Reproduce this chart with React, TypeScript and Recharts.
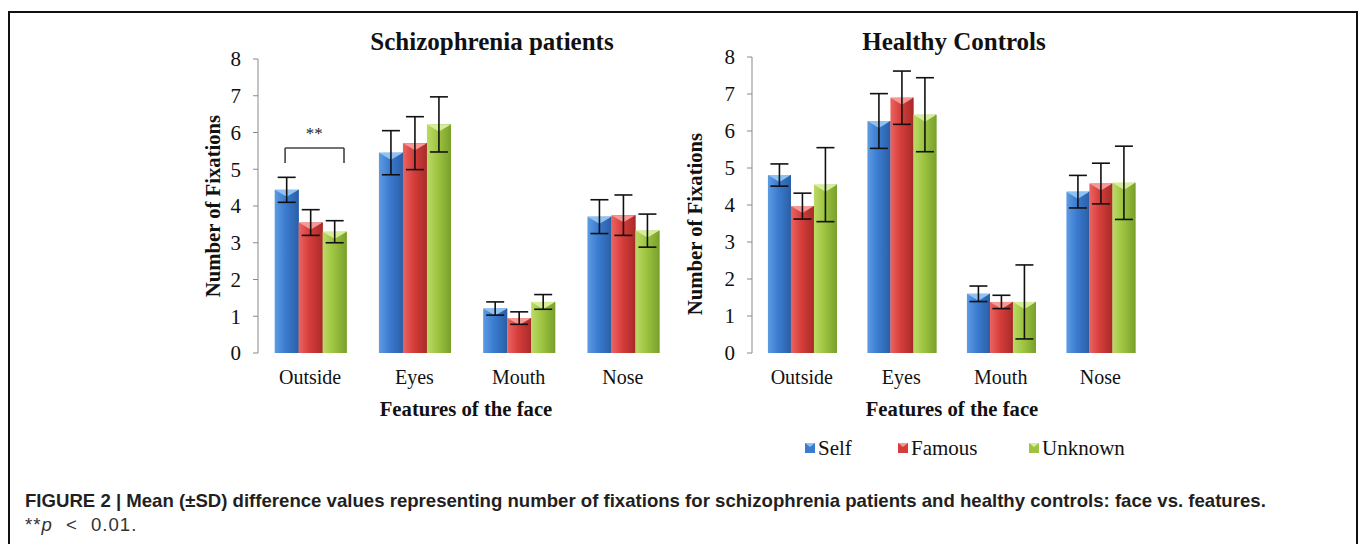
import React from 'react';
import {
    BarChart,
    Bar,
    XAxis,
    YAxis,
    ErrorBar,
    ReferenceLine,
    ReferenceDot
} from 'recharts';

// categories and series
const CATEGORIES = ['Outside', 'Eyes', 'Mouth', 'Nose'];
const SERIES = ['Self', 'Famous', 'Unknown'];
const Y_TICKS = [0, 1, 2, 3, 4, 5, 6, 7, 8];
const BOUNDARY_TICKS = [0, 1, 2, 3, 4];

// schizophrenia patients (mean, sd)
const SZ_SELF = [4.44, 5.45, 1.21, 3.71];
const SZ_FAMOUS = [3.55, 5.71, 0.95, 3.75];
const SZ_UNKNOWN = [3.3, 6.22, 1.39, 3.33];
const SZ_SELF_SD = [0.34, 0.6, 0.18, 0.46];
const SZ_FAMOUS_SD = [0.35, 0.72, 0.17, 0.55];
const SZ_UNKNOWN_SD = [0.3, 0.75, 0.2, 0.45];

// healthy controls (mean, sd)
const HC_SELF = [4.81, 6.27, 1.6, 4.36];
const HC_FAMOUS = [3.97, 6.9, 1.38, 4.58];
const HC_UNKNOWN = [4.55, 6.44, 1.38, 4.6];
const HC_SELF_SD = [0.3, 0.74, 0.21, 0.44];
const HC_FAMOUS_SD = [0.35, 0.72, 0.18, 0.55];
const HC_UNKNOWN_SD = [1.0, 1.0, 1.0, 0.99];

const SERIF = "'Liberation Serif', 'Times New Roman', serif";
const SANS = "'Liberation Sans', Arial, Helvetica, sans-serif";

const PALETTE: Record<string, { light: string; mid: string; dark: string; top: string }> = {
    Self: { light: '#5d9be2', mid: '#3b7bd0', dark: '#2a5fa6', top: '#8fc2f2' },
    Famous: { light: '#ea6462', mid: '#d63d3a', dark: '#a82b29', top: '#f59896' },
    Unknown: { light: '#bcda66', mid: '#9dc440', dark: '#79a02c', top: '#d6ee9a' }
};

// legend item left edges
const LEGEND_X = [805, 898, 1029];

const buildRows = (self: number[], famous: number[], unknown: number[], selfSd: number[], famousSd: number[], unknownSd: number[]) =>
    CATEGORIES.map((name, i) => ({
        name,
        pos: i + 0.5, // category centre on the 0..4 boundary axis
        Self: self[i],
        Famous: famous[i],
        Unknown: unknown[i],
        SelfSd: selfSd[i],
        FamousSd: famousSd[i],
        UnknownSd: unknownSd[i]
    }));

const szData = buildRows(SZ_SELF, SZ_FAMOUS, SZ_UNKNOWN, SZ_SELF_SD, SZ_FAMOUS_SD, SZ_UNKNOWN_SD);
const hcData = buildRows(HC_SELF, HC_FAMOUS, HC_UNKNOWN, HC_SELF_SD, HC_FAMOUS_SD, HC_UNKNOWN_SD);

// bar with a bevelled top, roughly like the office 3D style
const makeBevelBar = (key: string) => (props: any) => {
    const { x, y, width, height } = props;
    if (!height || height <= 0) return null;
    const c = PALETTE[key];
    const bevel = Math.min(7, height);
    return (
        <g>
            <rect x={x} y={y} width={width} height={height} fill={`url(#grad-${key})`} />
            <polygon
                points={`${x},${y} ${x + width},${y} ${x + width / 2},${y + bevel}`}
                fill={c.top}
            />
            <line x1={x + width - 0.5} y1={y} x2={x + width - 0.5} y2={y + height} stroke={c.dark} strokeWidth={1} />
        </g>
    );
};

const Gradients = () => (
    <defs>
        {SERIES.map(s => (
            <linearGradient key={s} id={`grad-${s}`} x1="0" y1="0" x2="1" y2="0">
                <stop offset="0%" stopColor={PALETTE[s].light} />
                <stop offset="45%" stopColor={PALETTE[s].mid} />
                <stop offset="100%" stopColor={PALETTE[s].dark} />
            </linearGradient>
        ))}
    </defs>
);

const axisGray = '#8a8a8a';

interface PanelProps {
    data: any[];
    width: number;
    height: number;
    yWidth: number;
    margin: { top: number; right: number; left: number; bottom: number };
    children?: React.ReactNode;
}

const Panel: React.FC<PanelProps> = ({ data, width, height, yWidth, margin, children }) => (
    <BarChart
        width={width}
        height={height}
        data={data}
        margin={margin}
        barGap={0}
        barCategoryGap="16%"
    >
        <Gradients />
        <XAxis
            xAxisId="edge"
            dataKey="pos"
            type="number"
            domain={[0, 4]}
            ticks={BOUNDARY_TICKS}
            allowDataOverflow
            height={0}
            tickSize={5}
            tickFormatter={() => ''}
            stroke={axisGray}
            tickLine={{ stroke: axisGray }}
        />
        <XAxis
            xAxisId="cat"
            dataKey="name"
            height={30}
            axisLine={false}
            tickLine={false}
            tickMargin={11}
            tick={{ fill: '#111', fontSize: 20, fontFamily: SERIF }}
        />
        <YAxis
            domain={[0, 8]}
            ticks={Y_TICKS}
            width={yWidth}
            tickSize={5}
            tickMargin={12}
            stroke={axisGray}
            tick={{ fill: '#111', fontSize: 21, fontFamily: SERIF }}
        />
        {SERIES.map(s => (
            <Bar
                key={s}
                xAxisId="cat"
                dataKey={s}
                fill={PALETTE[s].mid}
                shape={makeBevelBar(s)}
                isAnimationActive={false}
            >
                <ErrorBar dataKey={`${s}Sd`} width={9} stroke="#111" strokeWidth={1.6} direction="y" />
            </Bar>
        ))}
        {children}
    </BarChart>
);

const titleStyle: React.CSSProperties = {
    position: 'absolute',
    fontFamily: SERIF,
    fontWeight: 700,
    fontSize: 25,
    lineHeight: '25px',
    textAlign: 'center',
    color: '#111',
    whiteSpace: 'nowrap'
};

const axisTitleStyle: React.CSSProperties = {
    position: 'absolute',
    fontFamily: SERIF,
    fontWeight: 700,
    fontSize: 20.7,
    lineHeight: '22px',
    textAlign: 'center',
    color: '#111',
    whiteSpace: 'nowrap'
};

const App: React.FC = () => {
    return (
        <div style={{ position: 'absolute', left: 0, top: 0, width: 1360, height: 544, overflow: 'hidden', background: '#fff' }}>
            {/* frame */}
            <div style={{ position: 'absolute', left: 8, top: 11, width: 1346, height: 600, border: '2px solid #111', borderBottom: 'none' }} />

            {/* Left panel */}
            <div style={{ ...titleStyle, left: 342, width: 300, top: 29 }}>Schizophrenia patients</div>
            <div style={{ position: 'absolute', left: 190, top: 20 }}>
                <Panel data={szData} width={500} height={380} yWidth={68} margin={{ top: 39, right: 15, left: 0, bottom: 17 }}>
                    {/* ** bracket between Self and Unknown, Outside */}
                    <ReferenceLine xAxisId="edge" segment={[{ x: 0.26, y: 5.17 }, { x: 0.26, y: 5.58 }]} stroke="#444" strokeWidth={1.6} />
                    <ReferenceLine xAxisId="edge" segment={[{ x: 0.26, y: 5.58 }, { x: 0.825, y: 5.58 }]} stroke="#444" strokeWidth={1.6} />
                    <ReferenceLine xAxisId="edge" segment={[{ x: 0.825, y: 5.58 }, { x: 0.825, y: 5.17 }]} stroke="#444" strokeWidth={1.6} />
                    <ReferenceDot
                        xAxisId="edge"
                        x={0.54}
                        y={5.98}
                        r={0}
                        fill="none"
                        stroke="none"
                        label={{ value: '**', position: 'center', fontSize: 17, fontFamily: SERIF, fill: '#222' }}
                    />
                </Panel>
            </div>
            <div style={{ ...axisTitleStyle, left: 316, width: 300, top: 398 }}>Features of the face</div>
            <div style={{ ...axisTitleStyle, left: 113, width: 200, top: 195, transform: 'rotate(-90deg)' }}>Number of Fixations</div>

            {/* Right panel */}
            <div style={{ ...titleStyle, left: 804, width: 300, top: 29 }}>Healthy Controls</div>
            <div style={{ position: 'absolute', left: 680, top: 20 }}>
                <Panel data={hcData} width={490} height={380} yWidth={72} margin={{ top: 37, right: 20, left: 0, bottom: 17 }} />
            </div>
            <div style={{ ...axisTitleStyle, left: 802, width: 300, top: 398 }}>Features of the face</div>
            <div style={{ ...axisTitleStyle, left: 595, width: 200, top: 213, transform: 'rotate(-90deg)' }}>Number of Fixations</div>

            {/* legend */}
            {SERIES.map((s, i) => (
                <div key={s} style={{ position: 'absolute', left: LEGEND_X[i], top: 437, display: 'flex', alignItems: 'center', gap: 3 }}>
                    <svg width={10} height={10}>
                        <rect x={0} y={0} width={10} height={10} fill={PALETTE[s].mid} />
                        <polygon points="0,0 10,0 5,4" fill={PALETTE[s].top} />
                    </svg>
                    <span style={{ fontFamily: SERIF, fontSize: 21, color: '#111', lineHeight: '22px' }}>{s}</span>
                </div>
            ))}

            {/* caption */}
            <div style={{ position: 'absolute', left: 25, top: 490, fontFamily: SANS, fontWeight: 700, fontSize: 18.6, color: '#231f20', whiteSpace: 'nowrap', lineHeight: '22px' }}>
                FIGURE 2 | Mean (±SD) difference values representing number of fixations for schizophrenia patients and healthy controls: face vs. features.
            </div>
            <div style={{ position: 'absolute', left: 25, top: 514, fontFamily: SANS, fontWeight: 300, fontSize: 18.6, color: '#333', whiteSpace: 'nowrap', lineHeight: '22px', letterSpacing: 1, wordSpacing: 7 }}>
                **<i>p</i> &lt; 0.01.
            </div>
        </div>
    );
};

export default App;
